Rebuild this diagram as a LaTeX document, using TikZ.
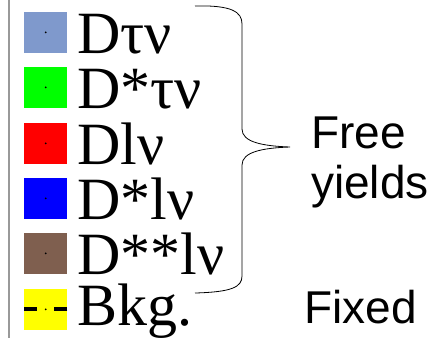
\documentclass[tikz,border=0pt]{standalone}
\usepackage{fontspec}
\setmainfont{Liberation Serif}
\newfontfamily\sansf{Liberation Sans}
\definecolor{cDtau}{HTML}{7F99CC}
\definecolor{cDstau}{HTML}{00FF00}
\definecolor{cDl}{HTML}{FF0000}
\definecolor{cDsl}{HTML}{0000FF}
\definecolor{cDssl}{HTML}{7F5F4F}
\definecolor{cBkg}{HTML}{FFFF00}
\tikzset{
  swatch/.style={minimum width=43pt, minimum height=41pt, inner sep=0pt, anchor=south west},
  lbl/.style={anchor=base west, inner sep=0pt, text height=41pt, text depth=0pt, font=\fontsize{60}{60}\selectfont},
  note/.style={anchor=base west, inner sep=0pt, font=\sansf\fontsize{46}{46}\selectfont},
  dot/.style={circle, fill=black, inner sep=0pt, minimum size=2pt}
}
\begin{document}
\begin{tikzpicture}[x=1pt,y=-1pt]
\useasboundingbox (0,0) rectangle (435,338);
\fill[white] (0,0) rectangle (435,338);
\draw[gray!80, line width=2pt] (9,0) -- (9,338);
% rows
\foreach \n/\c/\t/\yb in {r1/cDtau/Dτν/53, r2/cDstau/D*τν/108, r3/cDl/Dlν/164, r4/cDsl/D*lν/219, r5/cDssl/D**lν/274}{
  \node[swatch, fill=\c] (s\n) at (24,\yb) {};
  \node[dot] at (s\n.center) {};
  \node[lbl] (t\n) at (77,\yb) {\t};
}
\node[swatch, fill=cBkg] (sr6) at (24,330) {};
\draw[line width=4pt] (sr6.west) -- ++(13,0);
\draw[line width=4pt] (sr6.east) -- ++(-13,0);
\node[dot] at (sr6.center) {};
\node[lbl] (tr6) at (77,325) {Bkg.};
% brace
\coordinate (btop) at (195,6);
\coordinate (btip) at (290,147);
\coordinate (bbot) at (195,293);
\draw[line width=0.8pt] (btop) .. controls (232,5) and (242,12) .. (242,24) -- (242,129)
  .. controls (242,142) and (262,146) .. (btip)
  .. controls (262,148) and (242,152) .. (242,165) -- (242,276)
  .. controls (242,287) and (232,292) .. (bbot);
\node[note] (free) at (311,148) {Free};
\node[note] (yields) at (311,198) {yields};
\node[note] (fixed) at (304,323) {Fixed};
\end{tikzpicture}
\end{document}
